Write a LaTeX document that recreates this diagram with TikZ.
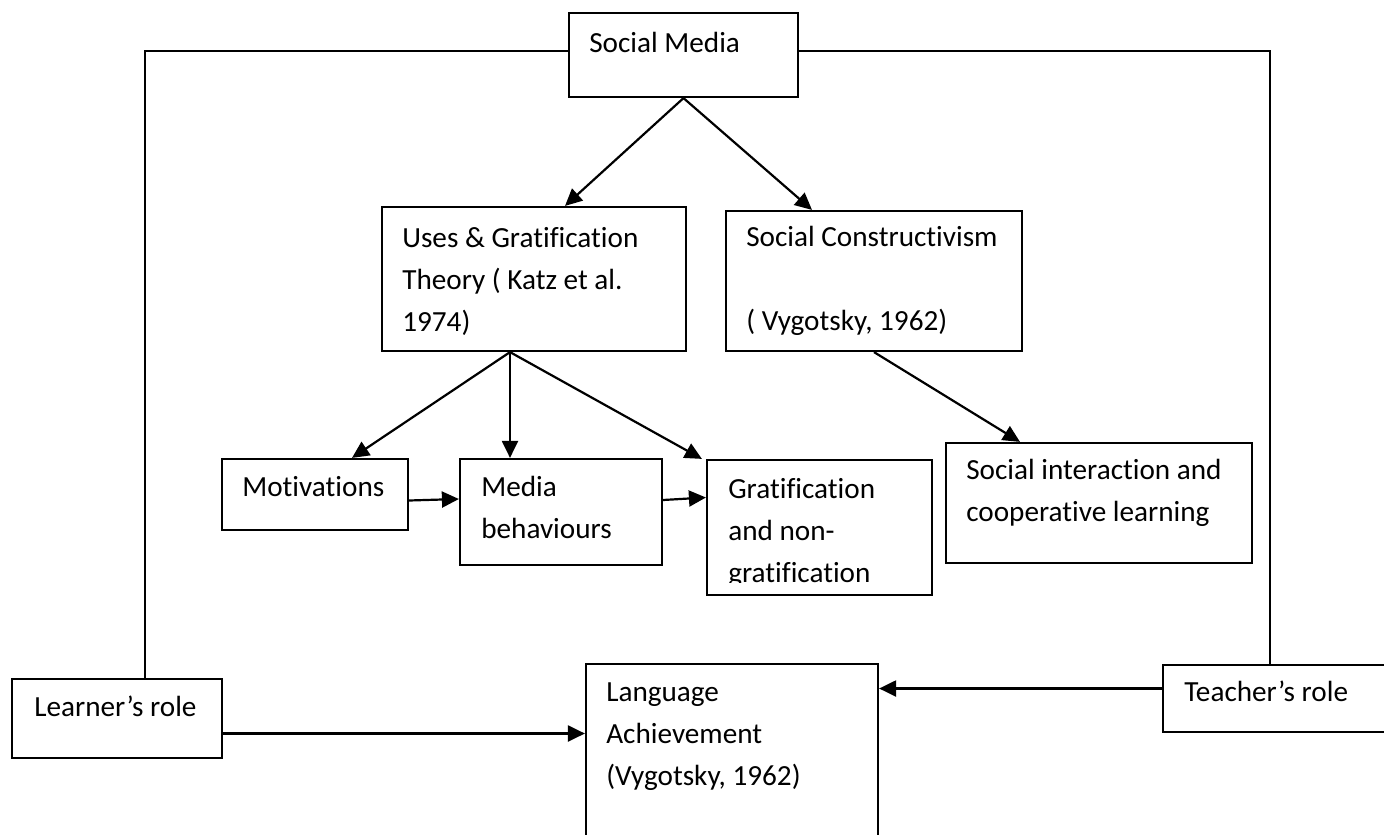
\documentclass[tikz,border=0pt]{standalone}
\usepackage{fontspec}
\setmainfont{Carlito}[Ligatures={NoCommon}]
\usetikzlibrary{arrows.meta,calc,fit}

\newcommand{\boxlines}[1]{\begin{tabular}[t]{@{}l@{}}#1\end{tabular}}

\begin{document}
\begin{tikzpicture}[x=0.5pt,y=-0.5pt,
  frame/.style={draw,line width=1.1pt,inner sep=0pt},
  words/.style={anchor=base west,inner sep=0pt,font=\fontsize{14.6}{21}\selectfont},
  link/.style={line width=1.1pt},
  arrow/.style={link,-{Triangle[length=8.5pt,width=8pt]}}]

\useasboundingbox (0,0) rectangle (1384,834);
\clip (0,0) rectangle (1384,834);

% draw boxes
\node[frame,fit={(569,13) (798,97)}] (media) {};
\node[frame,fit={(382,207) (686,351)}] (uses) {};
\node[frame,fit={(726,211) (1022,351)}] (constr) {};
\node[frame,fit={(222,459) (408,530)}] (motiv) {};
\node[frame,fit={(460,459) (662,565)}] (behav) {};
\node[frame,fit={(707,460) (932,595)}] (grat) {};
\node[frame,fit={(946,443) (1252,563)}] (inter) {};
\node[frame,fit={(12,679) (222,758)}] (learner) {};
\node[frame,fit={(586,664) (878,850)}] (lang) {};
\node[frame,fit={(1163,665) (1400,732)}] (teacher) {};

% draw texts
\node[words] (mediatext) at ($(media.north west)+(21,41)$) {Social Media};
\node[words] (usestext) at ($(uses.north west)+(21,42)$)
  {\boxlines{Uses \& Gratification\\Theory ( Katz et al.\\1974)}};
\node[words] (constrtext) at ($(constr.north west)+(21,37)$)
  {\boxlines{Social Constructivism\\ \\( Vygotsky, 1962)}};
\node[words] (motivtext) at ($(motiv.north west)+(21,39)$) {Motivations};
\node[words] (behavtext) at ($(behav.north west)+(22,39)$)
  {\boxlines{Media\\behaviours}};
\begin{scope}
  \clip (grat.north west) rectangle ($(grat.south east)+(0,-14)$);
  \node[words] (grattext) at ($(grat.north west)+(22,40)$)
    {\boxlines{Gratification\\and non-\\gratification}};
\end{scope}
\node[words] (intertext) at ($(inter.north west)+(21,38)$)
  {\boxlines{Social interaction and\\cooperative learning}};
\node[words] (learnertext) at ($(learner.north west)+(23,39)$) {Learner’s role};
\node[words] (langtext) at ($(lang.north west)+(21,39)$)
  {\boxlines{Language\\Achievement\\(Vygotsky, 1962)}};
\node[words] (teachertext) at ($(teacher.north west)+(22,38)$) {Teacher’s role};

% draw arrows from social media to the two theories
\draw[arrow] (media.south) -- ($(uses.north)+(31,0)$);
\draw[arrow] (media.south) -- ($(constr.north)+(-62,0)$);

% draw arrows below the theories
\coordinate (usesout) at ($(uses.south)+(-24,0)$);
\draw[arrow] (usesout) -- ($(motiv.north)+(37,0)$);
\draw[arrow] (usesout) -- (usesout |- behav.north);
\draw[arrow] (usesout) -- ($(grat.north west)+(-4,0)$);
\draw[arrow] (constr.south) -- ($(inter.north)+(-79,0)$);

\draw[arrow] ($(motiv.east)+(0,6)$) -- ($(behav.west)+(0,-13)$);
\draw[arrow] ($(behav.east)+(0,-12)$) -- ($(grat.west)+(0,-30)$);

% draw the two roles
\draw[link] ($(media.west)+(0,-4)$) -| ($(learner.north)+(28,0)$);
\draw[link] ($(media.east)+(0,-4)$) -| ($(teacher.north)+(-11.5,0)$);

\coordinate (lout) at ($(learner.east)+(0,15)$);
\draw[arrow] (lout) -- (lout -| lang.west);
\coordinate (tout) at ($(teacher.west)+(0,-10)$);
\draw[arrow] (tout) -- (tout -| lang.east);

\end{tikzpicture}
\end{document}
